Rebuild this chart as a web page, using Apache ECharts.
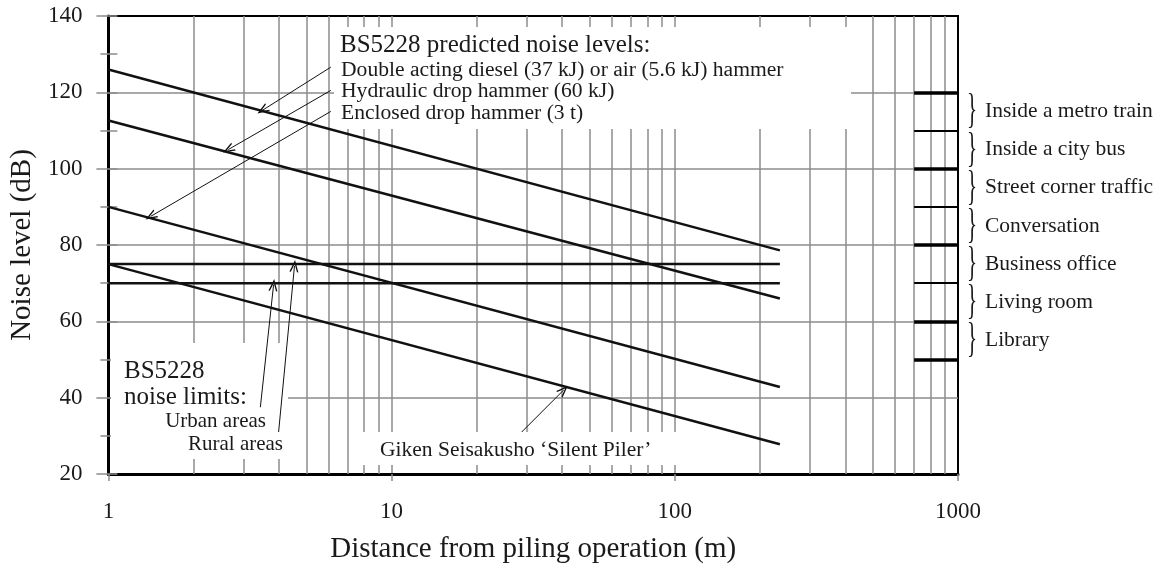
<!DOCTYPE html>
<html>
<head>
<meta charset="utf-8">
<script src="https://cdn.jsdelivr.net/npm/echarts@6/dist/echarts.min.js"></script>
<style>
html,body{margin:0;padding:0;background:#fff}
#chart{width:1156px;height:569px}
</style>
</head>
<body>
<div id="chart"></div>
<script>
// predicted noise levels (distance m, dB)
var doubleActing = [[1, 126], [235, 78.6]];
var hydraulicDrop = [[1, 112.6], [235, 66]];
var enclosedDrop = [[1, 90], [235, 42.8]];
var silentPiler = [[1, 75], [235, 27.8]];
// BS5228 limits
var ruralLimit = [[1, 75], [235, 75]];
var urbanLimit = [[1, 70], [235, 70]];
// minor vertical grid positions (log axis)
var minorGridX = [2, 3, 4, 5, 6, 7, 8, 9, 20, 30, 40, 50, 60, 70, 80, 90, 200, 300, 400, 500, 600, 700, 800, 900];
// reference scale on the right
var refLevels = [120, 110, 100, 90, 80, 70, 60, 50];
var refLabels = ['Inside a metro train', 'Inside a city bus', 'Street corner traffic', 'Conversation',
                 'Business office', 'Living room', 'Library'];
// leader arrows [from, to]
var leaders = [
    [[6.1, 126.6], [3.5, 115.3]],
    [[6.1, 120.5], [2.65, 105]],
    [[6.1, 115.0], [1.41, 87.5]],
    [[3.44, 37.5], [3.83, 69.5]],
    [[3.99, 31], [4.54, 74.5]],
    [[28.8, 31], [40.5, 42]]
];

var serif = '"Liberation Serif", "DejaVu Serif", serif';
var ink = '#1a1a1a';
var gridGray = '#8c8c8c';
var chevron = 'path://M0,10 L5,0 L10,10 L8.4,10 L5,3.2 L1.6,10 Z';

var myChart = echarts.init(document.getElementById('chart'));

function dataLine(name, data, z) {
    return {
        name: name, type: 'line', data: data, symbol: 'none', z: z || 3,
        lineStyle: {color: '#111', width: 2.5}, silent: true
    };
}

var option = {
    animation: false,
    grid: {left: 108, right: 198, top: 16, bottom: 94, show: true, borderColor: '#000', borderWidth: 2},
    xAxis: [{
        type: 'log', logBase: 10, min: 1, max: 1000,
        name: 'Distance from piling operation (m)', nameLocation: 'middle', nameGap: 61,
        nameTextStyle: {fontFamily: serif, fontSize: 29, color: ink},
        axisLine: {lineStyle: {color: '#000', width: 3}},
        axisTick: {show: true, length: 7, lineStyle: {color: gridGray, width: 1.5}},
        axisLabel: {margin: 26, fontFamily: serif, fontSize: 23, color: ink,
                    formatter: function (v) { return String(v); }},
        splitLine: {show: true, showMinLine: false, showMaxLine: false, lineStyle: {color: gridGray, width: 1.5}}
    }],
    yAxis: [{
        type: 'value', min: 20, max: 140, interval: 20,
        name: 'Noise level (dB)', nameLocation: 'middle', nameGap: 70,
        nameTextStyle: {fontFamily: serif, fontSize: 29, color: ink},
        axisLine: {show: true, lineStyle: {color: '#000', width: 3}},
        axisTick: {show: true, length: 12, lineStyle: {color: gridGray, width: 1.5}},
        minorTick: {show: true, splitNumber: 2, length: 8, lineStyle: {color: gridGray, width: 1.5}},
        axisLabel: {margin: 26, fontFamily: serif, fontSize: 23, color: ink, padding: [5, 0, 0, 0]},
        splitLine: {show: true, showMinLine: false, showMaxLine: false, lineStyle: {color: gridGray, width: 1.5}}
    }, {
        type: 'value', min: 20, max: 140, interval: 10, position: 'left',
        axisLine: {show: false},
        axisTick: {show: true, inside: true, length: 9, lineStyle: {color: gridGray, width: 1.5}},
        axisLabel: {show: false},
        splitLine: {show: false}
    }],
    series: [
        {
            type: 'line', data: [], z: 1, silent: true,
            markLine: {
                z: 1, silent: true, symbol: ['none', 'none'], label: {show: false},
                lineStyle: {color: gridGray, width: 1.5, type: 'solid'},
                data: minorGridX.map(function (v) {
                    return [{coord: [v, 20]}, {coord: [v, 140]}];
                })
            }
        },
        {
            type: 'line', data: [], z: 3, silent: true,
            markLine: {
                z: 3, silent: true, symbol: ['none', 'none'], label: {show: false},
                data: refLevels.map(function (v) {
                    return [{coord: [700, v], lineStyle: {color: '#000', width: (v % 20 === 0 || v === 50) ? 3.5 : 2.2, type: 'solid'}},
                            {coord: [1000, v]}];
                })
            }
        },
        dataLine('Double acting diesel or air hammer', doubleActing),
        dataLine('Hydraulic drop hammer', hydraulicDrop),
        dataLine('Enclosed drop hammer', enclosedDrop),
        dataLine('Giken Seisakusho Silent Piler', silentPiler),
        dataLine('Rural areas', ruralLimit),
        dataLine('Urban areas', urbanLimit),
        {
            type: 'line', data: [], z: 4, silent: true,
            markLine: {
                z: 4, silent: true, symbol: ['none', chevron], symbolSize: [9, 12], label: {show: false},
                lineStyle: {color: '#111', width: 1, type: 'solid'},
                data: leaders.map(function (l) {
                    return [{coord: l[0]}, {coord: l[1]}];
                })
            }
        }
    ]
};
myChart.setOption(option);

// annotations
function txt(s, x, y, size, align) {
    return {
        type: 'text', x: x, y: y, z: 5, silent: true,
        style: {text: s, font: size + 'px ' + serif, fill: ink, align: align || 'left', verticalAlign: 'middle'}
    };
}
function box(x, y, w, h) {
    return {type: 'rect', z: 2, silent: true, shape: {x: x, y: y, width: w, height: h}, style: {fill: '#fff'}};
}

var els = [
    box(334, 27, 517, 102),
    box(111, 343, 177, 116),
    box(352, 432, 330, 33),
    txt('BS5228 predicted noise levels:', 340, 45, 25),
    txt('Double acting diesel (37 kJ) or air (5.6 kJ) hammer', 341, 70, 21.6),
    txt('Hydraulic drop hammer (60 kJ)', 341, 91.5, 21.6),
    txt('Enclosed drop hammer (3 t)', 341, 113, 21.6),
    txt('BS5228', 124, 371, 25),
    txt('noise limits:', 124, 397, 25),
    txt('Urban areas', 266, 421.5, 21, 'right'),
    txt('Rural areas', 188, 444, 21),
    txt('Giken Seisakusho \u2018Silent Piler\u2019', 380, 450.5, 21.5)
];
for (var i = 0; i < refLabels.length; i++) {
    var mid = (refLevels[i] + refLevels[i + 1]) / 2;
    var p = myChart.convertToPixel({gridIndex: 0}, [1000, mid]);
    els.push({
        type: 'text', x: 967, y: p[1], z: 5, silent: true, scaleX: 0.5,
        style: {text: '}', font: '42px ' + serif, fill: ink, align: 'left', verticalAlign: 'middle'}
    });
    els.push(txt(refLabels[i], 985, p[1], 21.5));
}
myChart.setOption({graphic: {elements: els}});
</script>
</body>
</html>
